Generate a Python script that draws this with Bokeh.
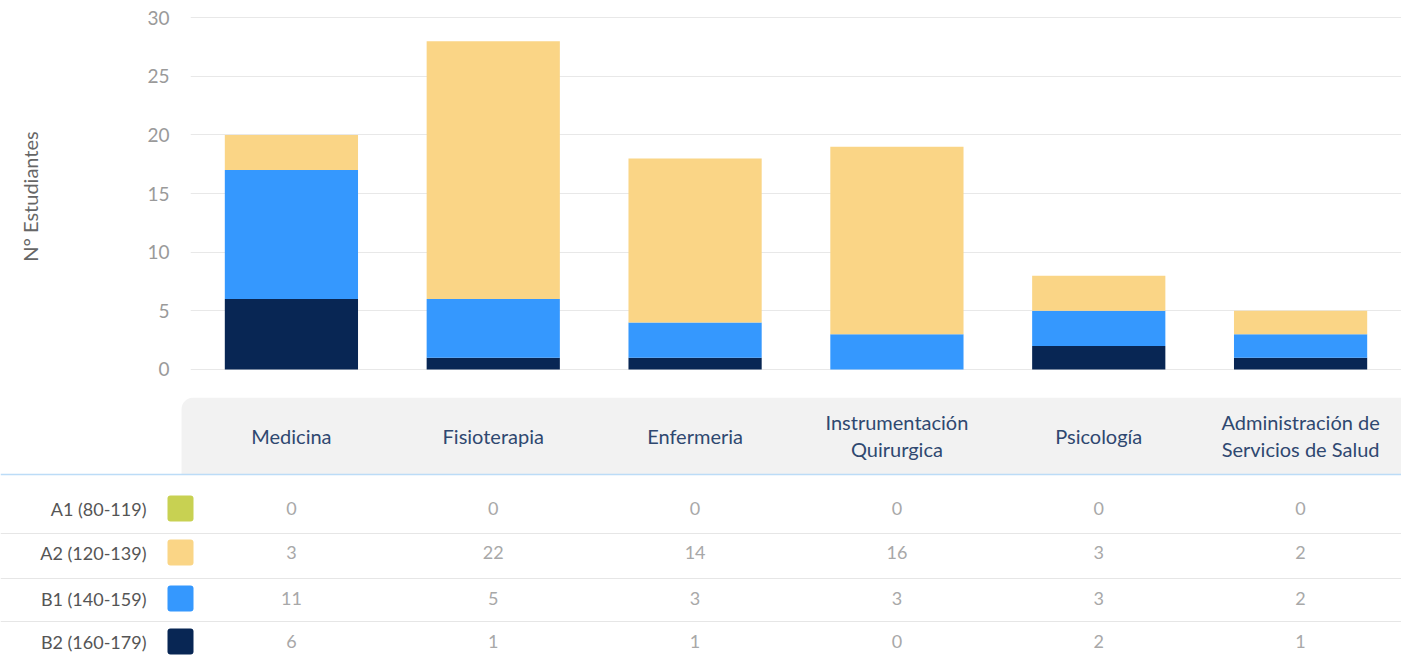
from bokeh.plotting import figure
from bokeh.layouts import column
from bokeh.models import ColumnDataSource, FactorRange, Range1d, FixedTicker, BoxAnnotation, Span
from bokeh.core.properties import value
from bokeh.embed import file_html
from bokeh.resources import INLINE

# ---------------- data ----------------
cats = ["Medicina", "Fisioterapia", "Enfermeria", "Instrumentación Quirurgica",
        "Psicología", "Administración de Servicios de Salud"]
header_labels = ["Medicina", "Fisioterapia", "Enfermeria", "Instrumentación\nQuirurgica",
                 "Psicología", "Administración de\nServicios de Salud"]
levels = ["A1 (80-119)", "A2 (120-139)", "B1 (140-159)", "B2 (160-179)"]
A1 = [0, 0, 0, 0, 0, 0]
A2 = [3, 22, 14, 16, 3, 2]
B1 = [11, 5, 3, 3, 3, 2]
B2 = [6, 1, 1, 0, 2, 1]
y_ticks = [0, 5, 10, 15, 20, 25, 30]
colors = {"A1": "#c8d152", "A2": "#fad586", "B1": "#3598fe", "B2": "#082654"}

FONT = "Lato"
W = 1401
LEFT = 190          # chart frame left offset inside figure

# ---------------- chart ----------------
src = ColumnDataSource(dict(cats=cats, A1=A1, A2=A2, B1=B1, B2=B2))
p1 = figure(width=W, height=397, x_range=FactorRange(factors=cats),
            y_range=Range1d(-0.6, 30.1), x_axis_location=None,
            output_backend="svg", toolbar_location=None,
            min_border_left=LEFT, min_border_right=0, min_border_top=16, min_border_bottom=21)
p1.frame_align = False
stack = ["B2", "B1", "A2", "A1"]
p1.vbar_stack(stack, x="cats", width=0.66, source=src,
              fill_color=[colors[s] for s in stack], line_color=None)
p1.outline_line_color = None
p1.xgrid.visible = False
p1.ygrid.grid_line_color = "#e8e8e8"
p1.ygrid.grid_line_width = 1
ax = p1.yaxis[0]
ax.ticker = FixedTicker(ticks=y_ticks)
ax.axis_line_color = None
ax.major_tick_line_color = None
ax.minor_tick_line_color = None
ax.major_label_standoff = 15
ax.major_label_text_font = FONT
ax.major_label_text_font_size = "19px"
ax.major_label_text_color = "#9a9a9a"
ax.axis_label = "N° Estudiantes"
ax.axis_label_text_font = FONT
ax.axis_label_text_font_size = "20px"
ax.axis_label_text_font_style = "normal"
ax.axis_label_text_color = "#666666"
ax.axis_label_standoff = 102

# ---------------- table ----------------
ncat = len(cats)
cat_px = (W - LEFT) / ncat
x0 = ncat - W / cat_px


def u(page_x):
    return x0 + page_x / cat_px


p2 = figure(width=W, height=268, x_range=Range1d(x0, ncat), y_range=Range1d(268, 0),
            x_axis_location=None, y_axis_location=None, min_border=0,
            output_backend="svg", toolbar_location=None)
p2.frame_align = False
p2.outline_line_color = None
p2.xgrid.visible = False
p2.ygrid.visible = False

p2.add_layout(BoxAnnotation(left=u(181), right=ncat, top=0, bottom=77,
                            fill_color="#f2f2f2", fill_alpha=1, line_color=None,
                            border_radius=dict(top_left=12), level="underlay"))
p2.add_layout(Span(location=77, dimension="width", line_color="#bcdcf7", line_width=1.5,
                   level="underlay"))
for loc in [136, 181, 224]:
    p2.add_layout(Span(location=loc, dimension="width", line_color="#e6e6e6", line_width=1,
                       level="underlay"))

cx = [i + 0.5 for i in range(ncat)]
p2.text(x=cx, y=[38] * ncat, text=header_labels, text_align="center", text_baseline="middle",
        text_font=value(FONT), text_font_size="20px", text_color="#2f4870", text_line_height=1.1)

row_y = [111, 155, 201, 244]
rows = [A1, A2, B1, B2]
keys = ["A1", "A2", "B1", "B2"]
for ry, vals in zip(row_y, rows):
    p2.text(x=cx, y=[ry] * ncat, text=[str(v) for v in vals], text_align="center",
            text_baseline="middle", text_font=value(FONT), text_font_size="18px",
            text_color="#a8a8a8")

p2.text(x=[u(146)] * len(levels), y=row_y, text=levels, text_align="right",
        text_baseline="middle", text_font=value(FONT), text_font_size="18px",
        text_color="#555555")
p2.rect(x=[u(180)] * len(levels), y=row_y, width=26, height=26,
        width_units="screen", height_units="screen",
        fill_color=[colors[k] for k in keys], line_color=None, border_radius=3)

layout = column(p1, p2, spacing=0)
open("out.html", "w").write(file_html(layout, INLINE))
